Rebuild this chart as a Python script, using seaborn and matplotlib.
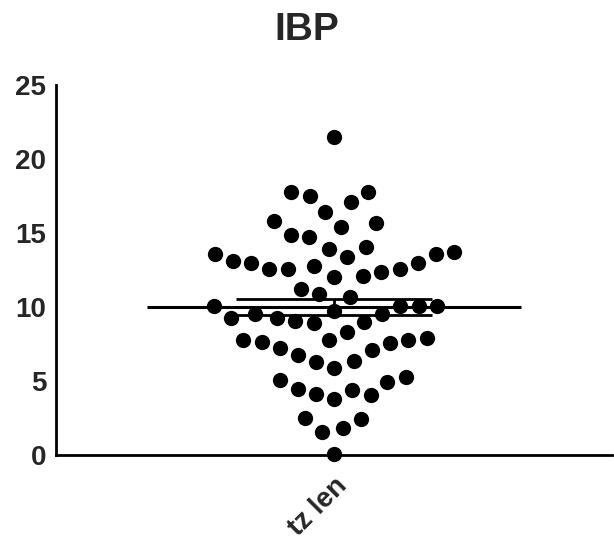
import numpy as np
import pandas as pd
import matplotlib
matplotlib.use("Agg")
import matplotlib.pyplot as plt
import seaborn as sns

# values
group_name = "tz len"
upper_vals = [21.5, 17.8, 17.5, 17.8, 17.1, 16.4, 15.8, 15.7, 15.4, 14.9, 14.7, 14.05]
band13_vals = [13.7, 13.6, 13.1, 12.97, 12.6, 12.0, 12.6, 12.4, 12.6, 12.1, 12.8, 13.0, 13.4, 13.6, 13.9]
band10_vals = [10.7, 10.9, 11.2, 10.1, 10.1, 10.1, 10.1]
band9_vals = [9.0, 9.5, 9.25, 9.25, 9.5, 9.7, 8.9, 9.05]
band7_vals = [8.3, 7.8, 7.2, 7.8, 6.75, 7.6, 6.3, 7.65, 5.9, 7.8, 6.35, 7.9, 7.1]
band4_vals = [5.07, 4.45, 4.1, 3.8, 4.05, 4.4, 4.95, 5.25]
low_vals = [2.4, 1.8, 1.55, 2.5, 0.07]
y_ticks = [0, 5, 10, 15, 20, 25]

values = upper_vals + band13_vals + band10_vals + band9_vals + band7_vals + band4_vals + low_vals
df = pd.DataFrame({"group": [group_name] * len(values), "value": values})

sns.set_style("white")
plt.rcParams['font.family'] = ['Liberation Sans', 'DejaVu Sans']
plt.rcParams['font.weight'] = 'bold'

fig = plt.figure(figsize=(6.14, 5.44), dpi=100)
ax = fig.add_axes([0.091, 0.1636, 0.906, 0.680])

ax.set_xlim(-0.825, 0.825)
ax.set_ylim(0, 25)
# lay the swarm out with a wider spacing (like Prism), then shrink the dots
sns.swarmplot(data=df, x="group", y="value", color="black", size=21, ax=ax)
fig.canvas.draw()
for coll in ax.collections:
    if "draw" in coll.__dict__:
        del coll.draw  # keep the positions computed above
    coll.set_sizes([11 ** 2])
    coll.set_clip_on(False)

# mean and SEM
arr = np.array(values)
mean = arr.mean()
sem = arr.std(ddof=1) / np.sqrt(len(arr))
ax.hlines(mean, -0.555, 0.555, color="black", lw=2.2, zorder=3)
ax.hlines([mean - sem, mean + sem], -0.29, 0.29, color="black", lw=2.0, zorder=3)
ax.vlines(0, mean - sem, mean + sem, color="black", lw=2.0, zorder=3)

ax.set_xlim(-0.825, 0.825)
ax.set_ylim(0, 25)
ax.set_yticks(y_ticks)
ax.set_xticks([0])
ax.set_xticklabels([group_name], rotation=45, ha="right", rotation_mode="anchor")
ax.set_xlabel("")
ax.set_ylabel("")

for side in ["top", "right"]:
    ax.spines[side].set_visible(False)
for side in ["left", "bottom"]:
    ax.spines[side].set_linewidth(2.0)
    ax.spines[side].set_color("black")

ax.tick_params(axis="both", which="major", direction="out", length=6, width=2.0,
               color="black", labelsize=20, pad=1)
ax.tick_params(axis="x", pad=7)
for lab in ax.get_xticklabels() + ax.get_yticklabels():
    lab.set_fontweight("bold")

fig.suptitle("IBP", x=0.5, y=0.978, fontsize=28, fontweight="bold")

fig.savefig("out.png", dpi=100)
